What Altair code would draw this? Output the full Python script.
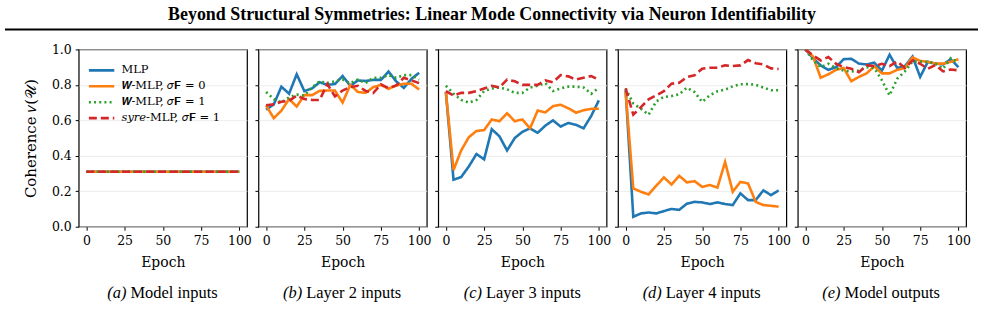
import altair as alt
import pandas as pd

# ---------------- data ----------------
epochs = [0, 5, 10, 15, 20, 25, 30, 35, 40, 45, 50, 55, 60, 65, 70, 75, 80, 85, 90, 95, 100]

series_names = ["MLP", "𝑾-MLP, 𝜎𝐅 = 0", "𝑾-MLP, 𝜎𝐅 = 1", "𝑠𝑦𝑟𝑒-MLP, 𝜎𝐅 = 1"]
series_colors = ["#1f77b4", "#ff7f0e", "#2ca02c", "#d62728"]
series_dashes = [[1, 0], [1, 0], [2, 3.2], [8, 4]]

panel_letters = ["(a)", "(b)", "(c)", "(d)", "(e)"]
panel_names = ["Model inputs", "Layer 2 inputs", "Layer 3 inputs", "Layer 4 inputs", "Model outputs"]

header_title = "Beyond Structural Symmetries: Linear Mode Connectivity via Neuron Identifiability"
x_ticks = [0, 25, 50, 75, 100]
y_ticks = [0.0, 0.2, 0.4, 0.6, 0.8, 1.0]

# (a) Model inputs
mlp_a = [0.31, 0.31, 0.31, 0.31, 0.31, 0.31, 0.31, 0.31, 0.31, 0.31, 0.31, 0.31, 0.31, 0.31, 0.31, 0.31, 0.31, 0.31, 0.31, 0.31, 0.31]
w0_a = [0.31, 0.31, 0.31, 0.31, 0.31, 0.31, 0.31, 0.31, 0.31, 0.31, 0.31, 0.31, 0.31, 0.31, 0.31, 0.31, 0.31, 0.31, 0.31, 0.31, 0.31]
w1_a = [0.31, 0.31, 0.31, 0.31, 0.31, 0.31, 0.31, 0.31, 0.31, 0.31, 0.31, 0.31, 0.31, 0.31, 0.31, 0.31, 0.31, 0.31, 0.31, 0.31, 0.31]
syre_a = [0.31, 0.31, 0.31, 0.31, 0.31, 0.31, 0.31, 0.31, 0.31, 0.31, 0.31, 0.31, 0.31, 0.31, 0.31, 0.31, 0.31, 0.31, 0.31, 0.31, 0.31]

# (b) Layer 2 inputs
mlp_b = [0.66, 0.69, 0.79, 0.75, 0.86, 0.765, 0.78, 0.815, 0.80, 0.805, 0.85, 0.795, 0.825, 0.822, 0.828, 0.828, 0.875, 0.82, 0.783, 0.834, 0.868]
w0_b = [0.684, 0.612, 0.655, 0.72, 0.678, 0.742, 0.742, 0.766, 0.768, 0.768, 0.70, 0.80, 0.76, 0.755, 0.787, 0.80, 0.778, 0.796, 0.806, 0.806, 0.774]
w1_b = [0.76, 0.72, 0.70, 0.73, 0.745, 0.74, 0.785, 0.82, 0.81, 0.82, 0.83, 0.81, 0.83, 0.81, 0.84, 0.84, 0.855, 0.84, 0.855, 0.855, 0.83]
syre_b = [0.685, 0.69, 0.705, 0.71, 0.74, 0.72, 0.715, 0.715, 0.805, 0.735, 0.768, 0.788, 0.795, 0.766, 0.754, 0.803, 0.782, 0.797, 0.84, 0.825, 0.81]

# (c) Layer 3 inputs
mlp_c = [0.76, 0.265, 0.28, 0.34, 0.41, 0.38, 0.55, 0.51, 0.43, 0.50, 0.535, 0.555, 0.53, 0.57, 0.60, 0.565, 0.585, 0.575, 0.555, 0.625, 0.713]
w0_c = [0.76, 0.32, 0.43, 0.505, 0.54, 0.545, 0.605, 0.595, 0.64, 0.595, 0.605, 0.555, 0.655, 0.645, 0.68, 0.688, 0.668, 0.643, 0.657, 0.665, 0.665]
w1_c = [0.795, 0.75, 0.715, 0.70, 0.715, 0.765, 0.78, 0.785, 0.775, 0.755, 0.755, 0.785, 0.795, 0.81, 0.765, 0.78, 0.79, 0.79, 0.785, 0.75, 0.785]
syre_c = [0.765, 0.74, 0.755, 0.755, 0.765, 0.78, 0.795, 0.785, 0.83, 0.82, 0.80, 0.80, 0.80, 0.825, 0.815, 0.855, 0.848, 0.83, 0.84, 0.85, 0.828]

# (d) Layer 4 inputs
mlp_d = [0.77, 0.056, 0.075, 0.08, 0.075, 0.088, 0.10, 0.095, 0.13, 0.14, 0.137, 0.128, 0.137, 0.128, 0.122, 0.188, 0.15, 0.15, 0.205, 0.178, 0.205]
w0_d = [0.76, 0.216, 0.197, 0.182, 0.231, 0.278, 0.238, 0.287, 0.25, 0.257, 0.225, 0.235, 0.221, 0.365, 0.197, 0.253, 0.244, 0.14, 0.122, 0.118, 0.113]
w1_d = [0.78, 0.695, 0.665, 0.632, 0.707, 0.732, 0.737, 0.747, 0.784, 0.76, 0.704, 0.741, 0.764, 0.773, 0.792, 0.803, 0.805, 0.80, 0.785, 0.77, 0.77]
syre_d = [0.78, 0.632, 0.675, 0.718, 0.741, 0.764, 0.807, 0.812, 0.844, 0.854, 0.891, 0.897, 0.897, 0.91, 0.906, 0.91, 0.94, 0.922, 0.915, 0.893, 0.89]

# (e) Model outputs
mlp_e = [1.0, 0.95, 0.91, 0.885, 0.90, 0.945, 0.947, 0.92, 0.915, 0.925, 0.88, 0.97, 0.895, 0.905, 0.96, 0.845, 0.93, 0.92, 0.915, 0.945, 0.90]
w0_e = [1.0, 0.96, 0.84, 0.86, 0.885, 0.895, 0.82, 0.845, 0.865, 0.905, 0.865, 0.865, 0.885, 0.895, 0.955, 0.935, 0.93, 0.92, 0.92, 0.93, 0.945]
w1_e = [1.0, 0.938, 0.90, 0.919, 0.895, 0.88, 0.876, 0.88, 0.90, 0.895, 0.826, 0.741, 0.835, 0.876, 0.932, 0.932, 0.929, 0.919, 0.891, 0.951, 0.925]
syre_e = [1.0, 0.966, 0.938, 0.957, 0.919, 0.90, 0.891, 0.872, 0.91, 0.906, 0.919, 0.906, 0.932, 0.895, 0.938, 0.919, 0.891, 0.912, 0.876, 0.887, 0.882]

panels = [
    [mlp_a, w0_a, w1_a, syre_a],
    [mlp_b, w0_b, w1_b, syre_b],
    [mlp_c, w0_c, w1_c, syre_c],
    [mlp_d, w0_d, w1_d, syre_d],
    [mlp_e, w0_e, w1_e, syre_e],
]

# ---------------- layout / style ----------------
W, H = 169, 178
SERIF = "DejaVu Serif"
TIMES = "Liberation Serif"
caption_split = [48, 44, 44, 44, 43]
LW = 2.6

legend = alt.Legend(
    title=None, orient="none", legendX=13, legendY=11, padding=0,
    symbolType="M-1.5,0L1.5,0", symbolSize=289, symbolStrokeWidth=LW,
    labelFont=SERIF, labelFontSize=11.5, labelColor="black", labelOffset=10,
    rowPadding=0, labelLimit=300,
)


def make_panel(i):
    rows = []
    for s, vals in zip(series_names, panels[i]):
        for e, v in zip(epochs, vals):
            rows.append({"series": s, "epoch": e, "value": v})
    df = pd.DataFrame(rows)

    y_axis_kw = dict(values=y_ticks, format=".1f", grid=True, tickSize=3.5)
    if i == 0:
        y_axis_kw.update(title="Coherence 𝜈(𝒰)", labels=True)
    else:
        y_axis_kw.update(title=None, labels=False)

    lines = alt.Chart(df).mark_line(strokeWidth=LW, clip=True).encode(
        x=alt.X("epoch:Q", scale=alt.Scale(domain=[-5, 105], nice=False, zero=False),
                axis=alt.Axis(values=x_ticks, title="Epoch", grid=False, tickSize=3.5)),
        y=alt.Y("value:Q", scale=alt.Scale(domain=[0, 1], nice=False), axis=alt.Axis(**y_axis_kw)),
        color=alt.Color("series:N", scale=alt.Scale(domain=series_names, range=series_colors), legend=legend),
        strokeDash=alt.StrokeDash("series:N", scale=alt.Scale(domain=series_names, range=series_dashes), legend=legend),
    )

    cap_df = pd.DataFrame({"letter": [panel_letters[i]], "name": [panel_names[i]]})
    cap1 = alt.Chart(cap_df).mark_text(font=TIMES, fontStyle="italic", fontSize=16.5, align="right",
                                       baseline="middle", color="black").encode(
        text="letter:N", x=alt.value(caption_split[i]), y=alt.value(H + 67))
    cap2 = alt.Chart(cap_df).mark_text(font=TIMES, fontSize=16.5, align="left",
                                       baseline="middle", color="black").encode(
        text="name:N", x=alt.value(caption_split[i] + 4), y=alt.value(H + 67))

    layers = [lines, cap1, cap2]
    if i == 0:
        hdr_df = pd.DataFrame({"t": [header_title]})
        hdr = alt.Chart(hdr_df).mark_text(font=TIMES, fontWeight="bold", fontSize=18, align="center",
                                          baseline="middle", color="black").encode(
            text="t:N", x=alt.value(415), y=alt.value(-35))
        rule = alt.Chart(hdr_df).mark_rule(color="black", strokeWidth=2).encode(
            x=alt.value(-74), x2=alt.value(903), y=alt.value(-20))
        layers += [hdr, rule]
    return alt.layer(*layers).properties(width=W, height=H)


chart = alt.hconcat(*[make_panel(i) for i in range(5)], spacing=11.5, bounds="flush").properties(
    padding={"left": 3, "top": 4, "right": 5, "bottom": 5},
    background="white",
).configure_view(
    stroke="black", strokeWidth=1.2
).configure_axis(
    domain=False, tickColor="black", tickWidth=1, gridColor="#e8e8e8", gridWidth=0.8,
    labelFont=SERIF, labelFontSize=12.5, labelColor="black", labelPadding=2,
    titleFont=SERIF, titleFontSize=14, titleFontWeight="normal", titleColor="black",
).configure_axisY(titlePadding=13, labelPadding=4, titleFontSize=15).configure_axisX(labelPadding=4, titlePadding=9)

chart.save("out.html", embed_options={"renderer": "svg", "actions": False})
